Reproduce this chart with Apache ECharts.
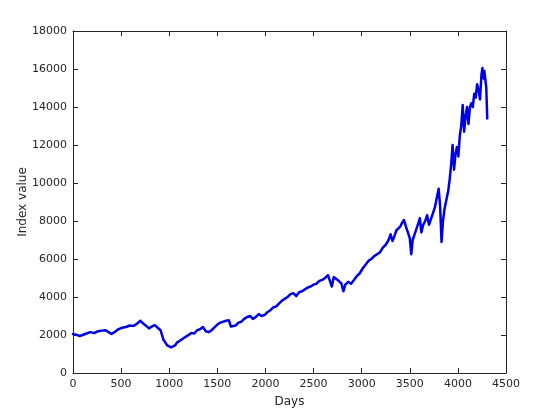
<!DOCTYPE html>
<html>
<head>
<meta charset="utf-8">
<script src="https://cdn.jsdelivr.net/npm/echarts@6/dist/echarts.min.js"></script>
<style>html,body{margin:0;padding:0;background:#fff}#c{width:560px;height:420px}</style>
</head>
<body>
<div id="c"></div>
<script>
var days = [0,30,70,100,140,180,220,260,300,340,370,400,430,470,510,550,590,630,670,700,730,760,790,820,850,880,910,940,960,980,1000,1020,1040,1060,1080,1110,1140,1170,1200,1230,1260,1290,1320,1350,1380,1410,1440,1470,1500,1530,1560,1590,1620,1640,1660,1690,1720,1750,1780,1810,1840,1870,1900,1930,1960,1990,2020,2050,2080,2110,2140,2170,2200,2230,2260,2290,2320,2350,2380,2410,2440,2470,2500,2530,2560,2590,2620,2650,2670,2690,2710,2730,2750,2770,2790,2810,2830,2860,2890,2920,2950,2980,3010,3040,3070,3100,3130,3160,3190,3220,3250,3280,3300,3320,3340,3360,3380,3400,3420,3440,3460,3480,3500,3515,3530,3550,3570,3590,3605,3620,3640,3660,3680,3700,3720,3740,3760,3780,3800,3815,3830,3845,3860,3880,3900,3915,3930,3945,3960,3975,3990,4005,4020,4035,4050,4065,4080,4095,4110,4125,4140,4155,4170,4185,4200,4215,4230,4245,4255,4265,4275,4285,4295,4305];
var indexValue = [2050,2020,1950,2000,2080,2150,2100,2200,2230,2250,2150,2050,2150,2300,2380,2420,2500,2480,2620,2750,2600,2480,2350,2450,2520,2380,2250,1750,1600,1450,1500,1350,1300,1450,1600,1700,1800,1900,2000,2100,2080,2250,2300,2420,2200,2150,2250,2400,2550,2650,2700,2750,2780,2450,2550,2500,2650,2700,2850,2950,3000,2850,2950,3100,3000,3050,3200,3300,3450,3500,3650,3800,3900,4000,4150,4200,4050,4250,4300,4400,4500,4550,4650,4700,4850,4900,5000,5150,5050,4550,5050,5100,4900,5000,4700,4300,4650,4800,4700,4900,5100,5250,5500,5700,5900,6000,6150,6250,6350,6600,6750,7000,7300,6950,7200,7500,7600,7700,7900,8050,7700,7400,7100,6250,7000,7300,7600,7900,8150,7400,7800,8000,8300,7800,8100,8400,8700,9200,9700,8800,6900,8000,8600,9100,9600,10200,11000,12000,10700,11500,11900,11400,12500,13000,14100,12700,13500,14000,13100,14000,14200,14000,14700,14500,15200,14900,14400,15700,16050,15500,15900,15800,15000,13400];
var xTicks = [0,500,1000,1500,2000,2500,3000,3500,4000,4500];
var yTicks = [0,2000,4000,6000,8000,10000,12000,14000,16000,18000];

var pts = days.map(function(d,i){return [d, indexValue[i]];});
var axisCol = '#262626';
var font = 'DejaVu Sans';
function plain(v){return String(v);}
function baseX(pos, show){
  return {type:'value', position:pos, min:xTicks[0], max:xTicks[xTicks.length-1], interval:xTicks[1]-xTicks[0],
    axisLine:{show:true,onZero:false,lineStyle:{color:axisCol,width:1}},
    axisTick:{show:true,inside:true,length:5,lineStyle:{color:axisCol}},
    axisLabel:{show:show,color:axisCol,fontFamily:font,fontSize:11,margin:6,formatter:plain},
    splitLine:{show:false}};
}
function baseY(pos, show){
  return {type:'value', position:pos, min:yTicks[0], max:yTicks[yTicks.length-1], interval:yTicks[1]-yTicks[0],
    axisLine:{show:true,onZero:false,lineStyle:{color:axisCol,width:1}},
    axisTick:{show:true,inside:true,length:5,lineStyle:{color:axisCol}},
    axisLabel:{show:show,color:axisCol,fontFamily:font,fontSize:11,margin:6,formatter:plain},
    splitLine:{show:false}};
}
var x0 = baseX('bottom', true);
x0.name = 'Days'; x0.nameLocation='middle'; x0.nameGap=23; x0.nameMoveOverlap=false;
x0.nameTextStyle={color:axisCol,fontFamily:font,fontSize:12};
var x1 = baseX('top', false);
var y0 = baseY('left', true);
y0.name = 'Index value'; y0.nameLocation='middle'; y0.nameGap=44; y0.nameMoveOverlap=false;
y0.nameTextStyle={color:axisCol,fontFamily:font,fontSize:12};
var y1 = baseY('right', false);

var chart = echarts.init(document.getElementById('c'), null, {renderer:'canvas'});
chart.setOption({
  animation:false,
  backgroundColor:'#fff',
  grid:{left:73,right:54,top:31,bottom:47,containLabel:false},
  xAxis:[x0,x1],
  yAxis:[y0,y1],
  series:[{type:'line',data:pts,xAxisIndex:0,yAxisIndex:0,showSymbol:false,symbol:'none',
    lineStyle:{color:'#0000e6',width:2.5,join:'round',cap:'round'},itemStyle:{color:'#0000e6'}}]
});
</script>
</body>
</html>
